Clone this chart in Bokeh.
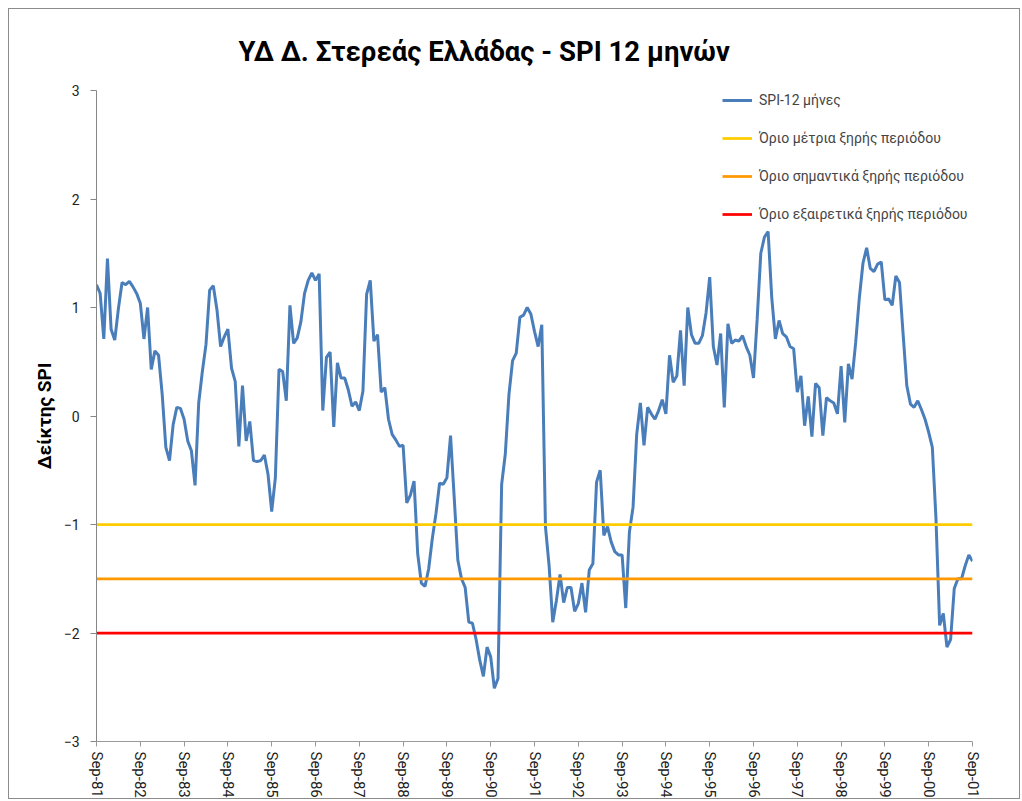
from bokeh.plotting import figure
from bokeh.models import Range1d, FixedTicker, Legend, LegendItem, Title
from bokeh.embed import file_html
from bokeh.resources import INLINE

spi = [
    1.21, 1.13, 0.71, 1.45, 0.80, 0.70, 0.99, 1.23, 1.21, 1.24,
    1.19, 1.13, 1.04, 0.71, 1.00, 0.43, 0.60, 0.56, 0.20, -0.29,
    -0.41, -0.08, 0.08, 0.07, -0.03, -0.23, -0.32, -0.64, 0.12, 0.41,
    0.66, 1.16, 1.20, 0.98, 0.64, 0.73, 0.80, 0.44, 0.32, -0.28,
    0.28, -0.23, -0.05, -0.41, -0.42, -0.41, -0.36, -0.54, -0.88, -0.57,
    0.43, 0.41, 0.14, 1.02, 0.67, 0.72, 0.87, 1.13, 1.25, 1.32,
    1.25, 1.31, 0.05, 0.54, 0.59, -0.10, 0.49, 0.35, 0.35, 0.24,
    0.09, 0.13, 0.05, 0.23, 1.12, 1.25, 0.69, 0.75, 0.22, 0.26,
    -0.03, -0.17, -0.22, -0.28, -0.27, -0.80, -0.73, -0.60, -1.27, -1.54,
    -1.57, -1.41, -1.13, -0.90, -0.62, -0.63, -0.57, -0.18, -0.75, -1.33,
    -1.50, -1.58, -1.90, -1.91, -2.06, -2.25, -2.40, -2.13, -2.22, -2.51,
    -2.42, -0.63, -0.35, 0.20, 0.51, 0.58, 0.91, 0.93, 1.00, 0.94,
    0.78, 0.64, 0.84, -1.02, -1.38, -1.90, -1.70, -1.46, -1.72, -1.58,
    -1.58, -1.80, -1.73, -1.54, -1.81, -1.42, -1.36, -0.61, -0.50, -1.10,
    -1.02, -1.16, -1.25, -1.28, -1.28, -1.77, -1.07, -0.84, -0.17, 0.12,
    -0.27, 0.08, 0.02, -0.03, 0.05, 0.15, 0.02, 0.56, 0.31, 0.37,
    0.79, 0.28, 1.00, 0.75, 0.67, 0.67, 0.74, 0.95, 1.28, 0.64,
    0.47, 0.76, 0.08, 0.85, 0.67, 0.70, 0.69, 0.74, 0.64, 0.56,
    0.35, 0.89, 1.50, 1.65, 1.70, 1.09, 0.71, 0.88, 0.76, 0.73,
    0.64, 0.62, 0.22, 0.37, -0.09, 0.18, -0.19, 0.30, 0.26, -0.18,
    0.17, 0.14, 0.12, 0.02, 0.46, -0.06, 0.48, 0.34, 0.68, 1.09,
    1.41, 1.55, 1.36, 1.33, 1.40, 1.42, 1.07, 1.08, 1.02, 1.29,
    1.23, 0.75, 0.28, 0.11, 0.08, 0.14, 0.06, -0.03, -0.15, -0.29,
    -0.95, -1.93, -1.82, -2.13, -2.06, -1.59, -1.50, -1.50, -1.38, -1.28, -1.34,
]

tick_labels = ["Sep-81", "Sep-82", "Sep-83", "Sep-84", "Sep-85", "Sep-86", "Sep-87",
               "Sep-88", "Sep-89", "Sep-90", "Sep-91", "Sep-92", "Sep-93", "Sep-94",
               "Sep-95", "Sep-96", "Sep-97", "Sep-98", "Sep-99", "Sep-00", "Sep-01"]

series_name = "SPI-12 μήνες"
thresholds = [-1.0, -1.5, -2.0]
threshold_names = ["Όριο μέτρια ξηρής περιόδου",
                   "Όριο σημαντικά ξηρής περιόδου",
                   "Όριο εξαιρετικά ξηρής περιόδου"]
y_ticks = [-3, -2, -1, 0, 1, 2, 3]

threshold_colors = ["#FFCC00", "#FF9900", "#FF0000"]
months = list(range(len(spi)))
FONT = "Roboto"

p = figure(width=1012, height=791, output_backend="svg", toolbar_location=None,
           x_range=Range1d(months[0], months[-1]), y_range=Range1d(y_ticks[0], y_ticks[-1]),
           min_border_left=87, min_border_right=49, min_border_top=79, min_border_bottom=58)
p.styles = {"border": "1px solid #8c8c8c", "margin-left": "8px", "margin-top": "8px"}

p.add_layout(Title(text="ΥΔ Δ. Στερεάς Ελλάδας - SPI  12 μηνών", align="left", offset=142,
                   text_font=FONT, text_font_size="27.5px", text_font_style="bold",
                   text_color="#000000", standoff=46), "above")

p.grid.visible = False
p.outline_line_color = None
p.background_fill_color = "white"
p.border_fill_color = "white"

r_spi = p.line(months, spi, line_color="#4A7EBB", line_width=3)
r_th = []
for t, c in zip(thresholds, threshold_colors):
    r_th.append(p.line([months[0], months[-1]], [t, t], line_color=c, line_width=2.75))

# axes
p.xaxis.ticker = FixedTicker(ticks=months[::12])
p.xaxis.major_label_overrides = {m: lab for m, lab in zip(months[::12], tick_labels)}
p.xaxis.major_label_orientation = "vertical"
p.xaxis.minor_tick_line_color = None
p.xaxis.major_tick_out = 5
p.xaxis.major_tick_in = 0
p.xaxis.major_label_standoff = 5
p.xaxis.major_label_text_font = FONT
p.xaxis.major_label_text_font_size = "15px"
p.xaxis.major_label_text_color = "#222222"
p.xaxis.axis_line_color = "#9a9a9a"
p.xaxis.major_tick_line_color = "#9a9a9a"

p.yaxis.ticker = FixedTicker(ticks=y_ticks)
p.yaxis.minor_tick_line_color = None
p.yaxis.major_tick_out = 6
p.yaxis.major_tick_in = 0
p.yaxis.major_label_standoff = 11
p.yaxis.major_label_text_font = FONT
p.yaxis.major_label_text_font_size = "14px"
p.yaxis.major_label_text_color = "#222222"
p.yaxis.axis_line_color = "#868686"
p.yaxis.major_tick_line_color = "#868686"
p.yaxis.axis_label = "Δείκτης SPI"
p.yaxis.axis_label_text_font = FONT
p.yaxis.axis_label_text_font_size = "19px"
p.yaxis.axis_label_text_font_style = "bold"
p.yaxis.axis_label_text_color = "#000000"
p.yaxis.axis_label_standoff = 5

items = [LegendItem(label=series_name, renderers=[r_spi])]
for name, r in zip(threshold_names, r_th):
    items.append(LegendItem(label=name, renderers=[r]))
legend = Legend(items=items, location=(626, 517), border_line_alpha=0,
                background_fill_alpha=0, label_text_font=FONT, label_text_font_size="14px",
                glyph_width=30, glyph_height=20, label_height=20, spacing=18,
                padding=0, margin=0, label_standoff=7)
p.add_layout(legend)

open("out.html", "w").write(file_html(p, INLINE))
